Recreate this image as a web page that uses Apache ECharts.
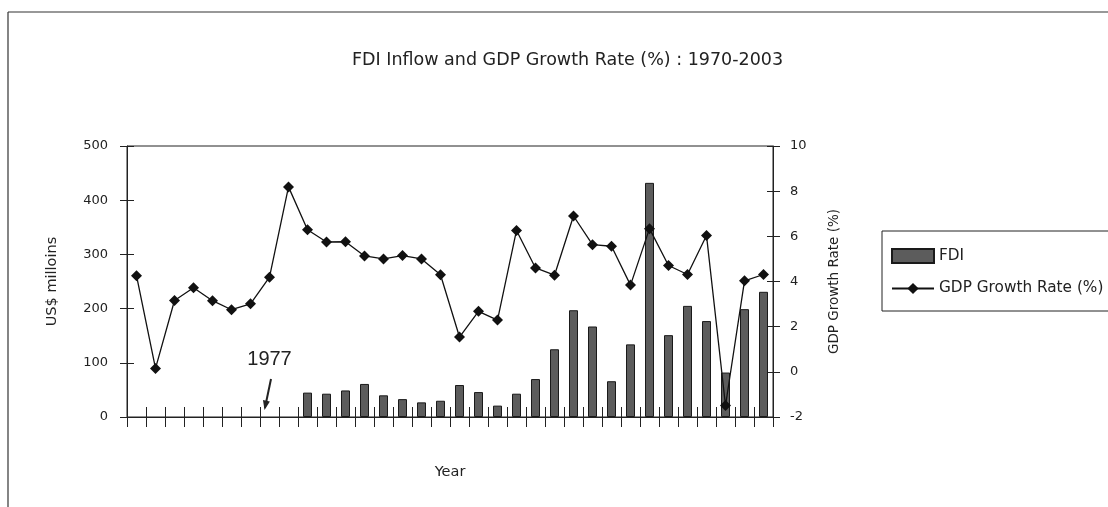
<!DOCTYPE html>
<html>
<head>
<meta charset="utf-8">
<script src="https://cdn.jsdelivr.net/npm/echarts@6/dist/echarts.min.js"></script>
<style>
  html, body { margin: 0; padding: 0; background: #fff; }
  #chart { width: 1108px; height: 507px; }
</style>
</head>
<body>
<div id="chart"></div>
<script>
// Years on the category axis
const years = ['1970','1971','1972','1973','1974','1975','1976','1977','1978','1979',
  '1980','1981','1982','1983','1984','1985','1986','1987','1988','1989',
  '1990','1991','1992','1993','1994','1995','1996','1997','1998','1999',
  '2000','2001','2002','2003'];

// FDI inflow, US$ millions (no data before 1979)
const fdi = [null, null, null, null, null, null, null, null, null, 45,
  43, 49, 61, 40, 33, 27, 30, 59, 46, 21,
  43, 70, 125, 197, 167, 66, 134, 432, 151, 205,
  177, 82, 199, 231];

// GDP growth rate, %
const gdpGrowth = [4.26, 0.15, 3.16, 3.72, 3.15, 2.75, 3.01, 4.19, 8.19, 6.29,
  5.75, 5.76, 5.13, 5.0, 5.15, 5.0, 4.3, 1.54, 2.68, 2.29,
  6.26, 4.6, 4.28, 6.9, 5.63, 5.56, 3.84, 6.34, 4.71, 4.31,
  6.04, -1.49, 4.03, 4.31];

// Axis ranges
const fdiAxis = { min: 0, max: 500, interval: 100 };
const gdpAxis = { min: -2, max: 10, interval: 2 };

// Annotated year
const markYear = '1977';
const markText = '1977';

const ink = '#222';
const font = 'DejaVu Sans';

const chart = echarts.init(document.getElementById('chart'));

const option = {
  backgroundColor: '#fff',
  animation: false,
  title: {
    text: 'FDI Inflow and GDP Growth Rate (%) : 1970-2003',
    left: 347, top: 46,
    textStyle: { fontFamily: font, fontSize: 17.5, fontWeight: 'normal', color: ink }
  },
  legend: {
    orient: 'vertical',
    left: 882, top: 231,
    borderColor: ink, borderWidth: 1,
    padding: [17, 30, 15, 9],
    itemGap: 17, itemWidth: 42, itemHeight: 14,
    textStyle: { fontFamily: font, fontSize: 15.3, color: ink },
    data: [
      { name: 'FDI', icon: 'rect' },
      { name: 'GDP Growth Rate (%)' }
    ]
  },
  grid: {
    left: 127, right: 335, top: 146, bottom: 90,
    show: true, borderColor: ink, borderWidth: 1, backgroundColor: 'transparent'
  },
  xAxis: [
    {
      type: 'category', data: years, position: 'bottom',
      axisLine: { show: true, onZero: false, lineStyle: { color: ink, width: 1 } },
      axisTick: { show: true, interval: 0, inside: false, length: 10, lineStyle: { color: ink } },
      axisLabel: { show: false },
      name: 'Year', nameLocation: 'middle', nameGap: 48,
      nameTextStyle: { fontFamily: font, fontSize: 14.5, color: ink }
    },
    {
      type: 'category', data: years, position: 'bottom',
      axisLine: { show: false, onZero: false },
      axisTick: { show: true, interval: 0, inside: true, length: 10, lineStyle: { color: ink } },
      axisLabel: { show: false }
    }
  ],
  yAxis: [
    {
      type: 'value', position: 'left',
      min: fdiAxis.min, max: fdiAxis.max, interval: fdiAxis.interval,
      axisLine: { show: true, lineStyle: { color: ink, width: 1 } },
      axisTick: { show: true, inside: false, length: 7, lineStyle: { color: ink } },
      axisLabel: { margin: 19, fontFamily: font, fontSize: 13, color: ink },
      splitLine: { show: false },
      name: 'US$ milloins', nameLocation: 'middle', nameGap: 67,
      nameTextStyle: { fontFamily: font, fontSize: 14.5, color: ink }
    },
    {
      type: 'value', position: 'right',
      min: gdpAxis.min, max: gdpAxis.max, interval: gdpAxis.interval,
      axisLine: { show: true, lineStyle: { color: ink, width: 1 } },
      axisTick: { show: true, inside: false, length: 7, lineStyle: { color: ink } },
      axisLabel: { margin: 17, fontFamily: font, fontSize: 13, color: ink },
      splitLine: { show: false },
      name: 'GDP Growth Rate (%)', nameLocation: 'middle', nameGap: 54,
      nameTextStyle: { fontFamily: font, fontSize: 13.5, color: ink }
    },
    {
      type: 'value', position: 'left',
      min: fdiAxis.min, max: fdiAxis.max, interval: fdiAxis.interval,
      axisLine: { show: false }, axisLabel: { show: false }, splitLine: { show: false },
      axisTick: { show: true, inside: true, length: 7, lineStyle: { color: ink } }
    },
    {
      type: 'value', position: 'right',
      min: gdpAxis.min, max: gdpAxis.max, interval: gdpAxis.interval,
      axisLine: { show: false }, axisLabel: { show: false }, splitLine: { show: false },
      axisTick: { show: true, inside: true, length: 6, lineStyle: { color: ink } }
    }
  ],
  series: [
    {
      name: 'FDI', type: 'bar',
      xAxisIndex: 0, yAxisIndex: 0,
      data: fdi,
      barWidth: 9,
      itemStyle: { color: '#5c5c5c', borderColor: '#1a1a1a', borderWidth: 1 },
      z: 2
    },
    {
      name: 'GDP Growth Rate (%)', type: 'line',
      xAxisIndex: 0, yAxisIndex: 1,
      data: gdpGrowth,
      symbol: 'diamond', symbolSize: 11,
      itemStyle: { color: '#111' },
      lineStyle: { color: '#111', width: 1.3 },
      z: 3
    }
  ]
};

chart.setOption(option);

// Annotation: label and arrow above the marked year, placed through the axes
const cx = chart.convertToPixel({ xAxisIndex: 0 }, markYear);
const yText = chart.convertToPixel({ yAxisIndex: 0 }, 106);
const yArrowTop = chart.convertToPixel({ yAxisIndex: 0 }, 70);
const yArrowTip = chart.convertToPixel({ yAxisIndex: 0 }, 13);
const tipX = cx - 5, topX = cx + 1.5;
const ang = Math.atan2(yArrowTip - yArrowTop, tipX - topX);
const head = 10, spread = 0.36;

chart.setOption({
  graphic: [
    // page frame
    { type: 'line', shape: { x1: 8, y1: 12, x2: 1108, y2: 12 }, style: { stroke: '#333', lineWidth: 1.2 }, silent: true },
    { type: 'line', shape: { x1: 8, y1: 12, x2: 8, y2: 507 }, style: { stroke: '#333', lineWidth: 1.2 }, silent: true },
    {
      type: 'text', x: cx, y: yText,
      style: { text: markText, fontFamily: 'Liberation Sans', fontSize: 20, fill: ink, align: 'center', verticalAlign: 'middle' }
    },
    {
      type: 'line', shape: { x1: topX, y1: yArrowTop, x2: tipX - 2 * Math.cos(ang), y2: yArrowTip - 2 * Math.sin(ang) },
      style: { stroke: ink, lineWidth: 2 }
    },
    {
      type: 'polygon',
      shape: {
        points: [
          [tipX, yArrowTip],
          [tipX - head * Math.cos(ang - spread), yArrowTip - head * Math.sin(ang - spread)],
          [tipX - head * Math.cos(ang + spread), yArrowTip - head * Math.sin(ang + spread)]
        ]
      },
      style: { fill: ink }
    }
  ]
});
</script>
</body>
</html>
